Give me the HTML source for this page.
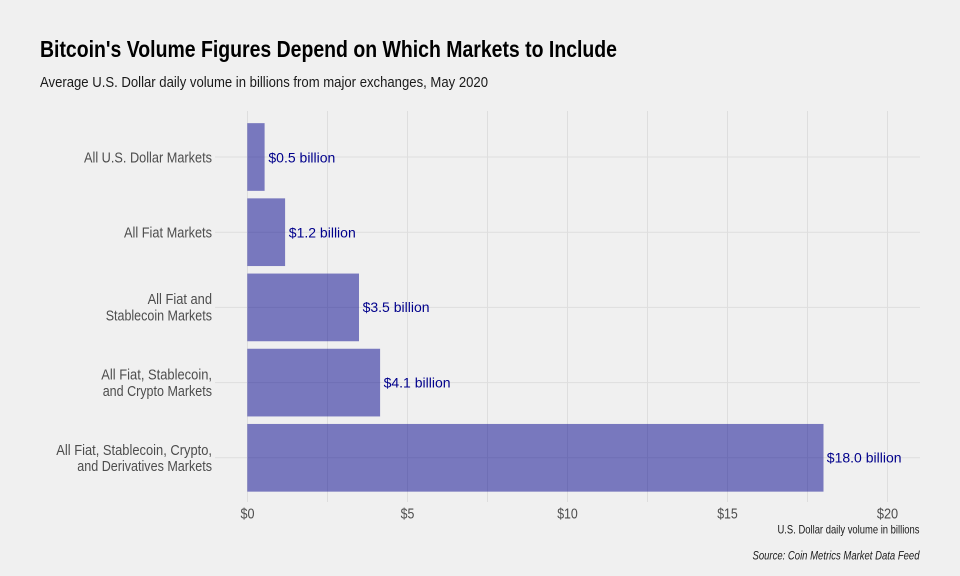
<!DOCTYPE html>
<html>
<head>
<meta charset="utf-8">
<style>
html,body{margin:0;padding:0;background:#f0f0f0;}
svg{display:block;}
text{font-family:"Liberation Sans Narrow","Liberation Sans",sans-serif;}
.dl{font-family:"Liberation Sans",sans-serif;}
</style>
</head>
<body>
<svg width="960" height="576" viewBox="0 0 960 576" xmlns="http://www.w3.org/2000/svg">
<rect x="0" y="0" width="960" height="576" fill="#f0f0f0"/>

<!-- title / subtitle -->
<text x="40" y="57" font-size="23" font-weight="bold" fill="#000" textLength="577" lengthAdjust="spacingAndGlyphs">Bitcoin's Volume Figures Depend on Which Markets to Include</text>
<text x="40" y="87" font-size="15" fill="#1a1a1a" textLength="448" lengthAdjust="spacingAndGlyphs">Average U.S. Dollar daily volume in billions from major exchanges, May 2020</text>

<!-- gridlines -->
<g stroke="#dedede" stroke-width="1">
<line x1="247.5" y1="111" x2="247.5" y2="502"/>
<line x1="327.5" y1="111" x2="327.5" y2="502"/>
<line x1="407.5" y1="111" x2="407.5" y2="502"/>
<line x1="487.5" y1="111" x2="487.5" y2="502"/>
<line x1="567.5" y1="111" x2="567.5" y2="502"/>
<line x1="647.5" y1="111" x2="647.5" y2="502"/>
<line x1="727.5" y1="111" x2="727.5" y2="502"/>
<line x1="807.5" y1="111" x2="807.5" y2="502"/>
<line x1="887.5" y1="111" x2="887.5" y2="502"/>
<line x1="215" y1="157" x2="920" y2="157"/>
<line x1="215" y1="232.2" x2="920" y2="232.2"/>
<line x1="215" y1="307.4" x2="920" y2="307.4"/>
<line x1="215" y1="382.6" x2="920" y2="382.6"/>
<line x1="215" y1="457.8" x2="920" y2="457.8"/>
</g>

<!-- bars -->
<g fill="#00008b" fill-opacity="0.5">
<rect x="247.3" y="123.15" width="17.3" height="67.7"/>
<rect x="247.3" y="198.35" width="37.8" height="67.7"/>
<rect x="247.3" y="273.55" width="111.7" height="67.7"/>
<rect x="247.3" y="348.75" width="132.8" height="67.7"/>
<rect x="247.3" y="423.95" width="576.2" height="67.7"/>
</g>

<!-- data labels -->
<g class="dl" font-size="14" fill="#00008b">
<text class="dl" x="268.4" y="162.3">$0.5 billion</text>
<text class="dl" x="288.8" y="237.5">$1.2 billion</text>
<text class="dl" x="362.6" y="312.0">$3.5 billion</text>
<text class="dl" x="383.6" y="387.3">$4.1 billion</text>
<text class="dl" x="826.8" y="462.5">$18.0 billion</text>
</g>

<!-- y tick labels -->
<g font-size="14.5" fill="#4d4d4d" text-anchor="end">
<text x="212" y="162.3" textLength="128" lengthAdjust="spacingAndGlyphs">All U.S. Dollar Markets</text>
<text x="212" y="237.5" textLength="88" lengthAdjust="spacingAndGlyphs">All Fiat Markets</text>
<text x="212" y="304" textLength="64.4" lengthAdjust="spacingAndGlyphs">All Fiat and</text>
<text x="212" y="320.7" textLength="106.3" lengthAdjust="spacingAndGlyphs">Stablecoin Markets</text>
<text x="212" y="379.3" textLength="110.7" lengthAdjust="spacingAndGlyphs">All Fiat, Stablecoin,</text>
<text x="212" y="395.9" textLength="109.3" lengthAdjust="spacingAndGlyphs">and Crypto Markets</text>
<text x="212" y="455" textLength="155.7" lengthAdjust="spacingAndGlyphs">All Fiat, Stablecoin, Crypto,</text>
<text x="212" y="470.8" textLength="134.7" lengthAdjust="spacingAndGlyphs">and Derivatives Markets</text>
</g>

<!-- x tick labels -->
<g font-size="14.5" fill="#4d4d4d" text-anchor="middle">
<text x="247.5" y="518.5" textLength="14" lengthAdjust="spacingAndGlyphs">$0</text>
<text x="407.5" y="518.5" textLength="13.7" lengthAdjust="spacingAndGlyphs">$5</text>
<text x="567.5" y="518.5" textLength="20.6" lengthAdjust="spacingAndGlyphs">$10</text>
<text x="727.5" y="518.5" textLength="20.6" lengthAdjust="spacingAndGlyphs">$15</text>
<text x="887.5" y="518.5" textLength="21.3" lengthAdjust="spacingAndGlyphs">$20</text>
</g>

<!-- axis title / caption -->
<text x="919.5" y="533.3" font-size="12" fill="#1a1a1a" text-anchor="end" textLength="142" lengthAdjust="spacingAndGlyphs">U.S. Dollar daily volume in billions</text>
<text x="919.5" y="559.3" font-size="12" font-style="italic" fill="#1a1a1a" text-anchor="end" textLength="167" lengthAdjust="spacingAndGlyphs">Source: Coin Metrics Market Data Feed</text>
</svg>
</body>
</html>
